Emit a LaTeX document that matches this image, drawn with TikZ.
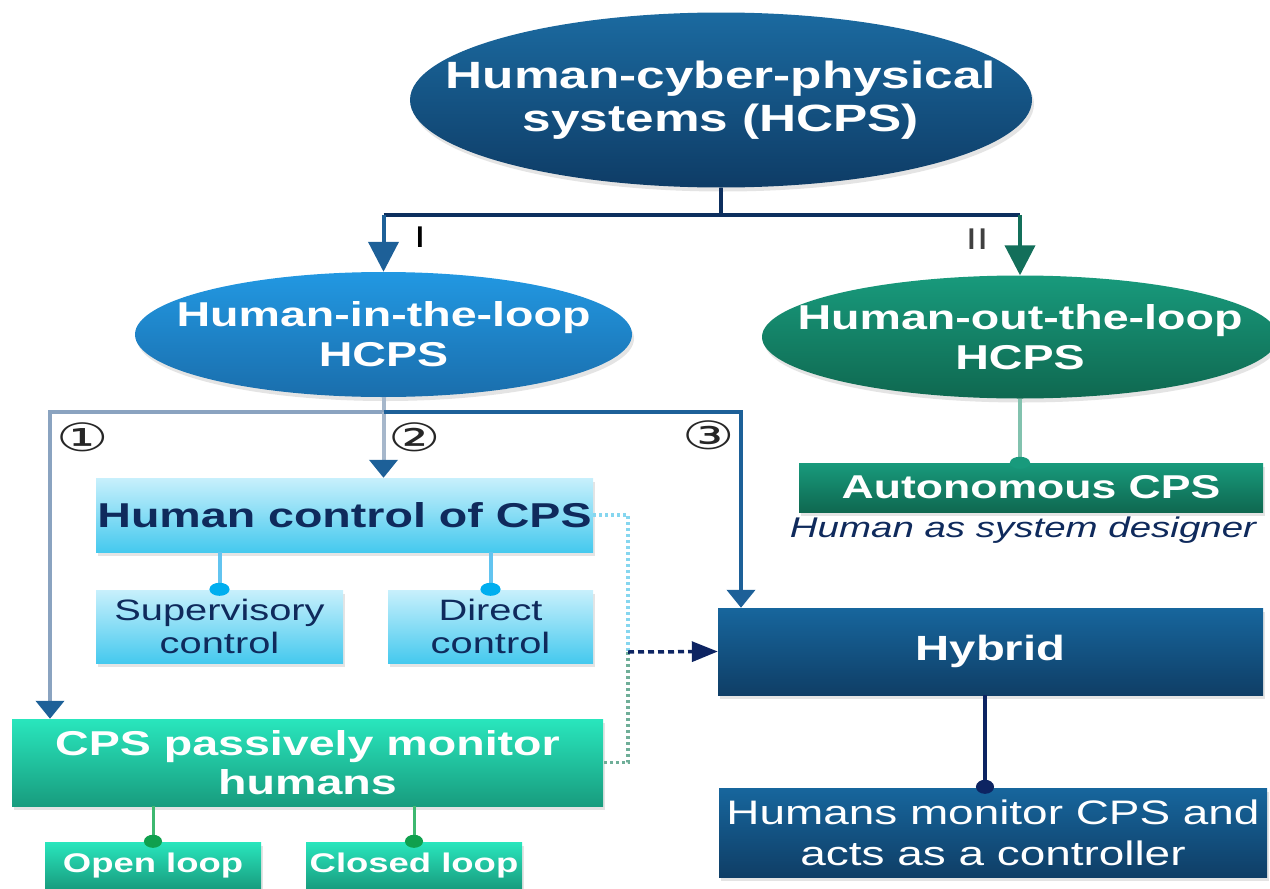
\documentclass[tikz,border=0pt]{standalone}
\usepackage{fontspec}
\setmainfont{Liberation Sans}[FakeStretch=1.35]
\newfontfamily\circfont{DejaVu Sans}[FakeStretch=1.5]
\usetikzlibrary{arrows.meta,shapes.geometric,shadows}

% palette
\definecolor{hcTop}{HTML}{1B6AA0}
\definecolor{hcBot}{HTML}{0E3C66}
\definecolor{inTop}{HTML}{2298E2}
\definecolor{inBot}{HTML}{1A6EAC}
\definecolor{outTop}{HTML}{189A7C}
\definecolor{outBot}{HTML}{0F6850}
\definecolor{skyTop}{HTML}{C8F0FC}
\definecolor{skyBot}{HTML}{45C9EE}
\definecolor{mintTop}{HTML}{29E6BD}
\definecolor{mintBot}{HTML}{189C7E}
\definecolor{deepTop}{HTML}{17669D}
\definecolor{deepBot}{HTML}{0F3E66}
\definecolor{navyline}{HTML}{0D2F5E}
\definecolor{blueline}{HTML}{1D6098}
\definecolor{greenline}{HTML}{136F5A}
\definecolor{paleline}{HTML}{A6B7CB}
\definecolor{midline}{HTML}{8AA3C0}
\definecolor{cyanline}{HTML}{62C4F0}
\definecolor{cyandot}{HTML}{00AEEF}
\definecolor{leafline}{HTML}{3DB870}
\definecolor{leafdot}{HTML}{10A04E}
\definecolor{sageline}{HTML}{82C2AE}
\definecolor{inkblue}{HTML}{0F2A5C}
\definecolor{dotsky}{HTML}{86D6EF}
\definecolor{dotsage}{HTML}{6FAE98}
\definecolor{dotnavy}{HTML}{0D2462}

\begin{document}
\begin{tikzpicture}[x=1pt,y=-1pt,
  softshadow/.style={drop shadow={shadow xshift=2pt,shadow yshift=-4pt,opacity=0.15,fill=black!70}},
  oval/.style={ellipse,inner sep=0pt,draw=none,softshadow},
  panel/.style={rectangle,inner sep=0pt,draw=none,align=center,softshadow},
  txt/.style={align=center,inner sep=0pt},
  bigtip/.style={-{Triangle[width=30pt,length=30pt]}},
  smalltip/.style={-{Triangle[width=28pt,length=18pt,color=blueline]}},
  roundtip/.style={shorten >=-6pt},
  lab/.style={inner sep=0pt,font=\fontsize{30}{30}\selectfont},
  circnum/.style={inner sep=0pt,text=black!85,font=\circfont\fontsize{39}{39}\selectfont}
]
\useasboundingbox (0,0) rectangle (1270,889);
\clip (0,0) rectangle (1270,889);

% ---- ovals ----
\node[oval,top color=hcTop,bottom color=hcBot,minimum width=622pt,minimum height=175pt] (hcps) at (721,100) {};
\node[txt,text=white,font=\bfseries\fontsize{38}{43}\selectfont] (hcpsT) at (hcps) {Human-cyber-physical\\systems (HCPS)};

\node[oval,top color=inTop,bottom color=inBot,minimum width=497pt,minimum height=125pt] (hitl) at (383.5,334.5) {};
\node[txt,text=white,font=\bfseries\fontsize{34.5}{40}\selectfont] (hitlT) at (hitl) {Human-in-the-loop\\HCPS};

\node[oval,top color=outTop,bottom color=outBot,minimum width=516pt,minimum height=123pt] (hotl) at (1020,337) {};
\node[txt,text=white,font=\bfseries\fontsize{34.5}{40}\selectfont] (hotlT) at (hotl) {Human-out-the-loop\\HCPS};

% ---- boxes ----
\node[panel,top color=skyTop,bottom color=skyBot,minimum width=497pt,minimum height=74pt,
      text=inkblue,font=\bfseries\fontsize{34.5}{40}\selectfont] (hc) at (344.5,515) {Human control of CPS};
\node[panel,top color=skyTop,bottom color=skyBot,minimum width=247pt,minimum height=73pt,
      text=inkblue,font=\fontsize{29.5}{33}\selectfont] (sup) at (219.5,626.5) {Supervisory\\control};
\node[panel,top color=skyTop,bottom color=skyBot,minimum width=205pt,minimum height=73pt,
      text=inkblue,font=\fontsize{29.5}{33}\selectfont] (dir) at (490.5,626.5) {Direct\\control};

\node[panel,top color=mintTop,bottom color=mintBot,minimum width=591pt,minimum height=87pt,
      text=white,font=\bfseries\fontsize{34.5}{39}\selectfont] (cpm) at (307.5,762.5) {CPS passively monitor\\humans};
\node[panel,top color=mintTop,bottom color=mintBot,minimum width=216pt,minimum height=47pt,
      text=white,font=\bfseries\fontsize{27}{30}\selectfont] (open) at (153,865.5) {Open loop};
\node[panel,top color=mintTop,bottom color=mintBot,minimum width=216pt,minimum height=47pt,
      text=white,font=\bfseries\fontsize{27}{30}\selectfont] (closed) at (414,865.5) {Closed loop};

\node[panel,top color=outTop,bottom color=outBot,minimum width=464pt,minimum height=49pt,
      text=white,font=\bfseries\fontsize{33}{36}\selectfont] (auto) at (1031,487.5) {Autonomous CPS};
\node[anchor=base,inner sep=0pt,text=inkblue,font=\itshape\fontsize{28.5}{30}\selectfont] (designer) at (1023,537) {Human as system designer};

\node[panel,top color=deepTop,bottom color=deepBot,minimum width=545pt,minimum height=87pt,
      text=white,font=\bfseries\fontsize{35}{40}\selectfont] (hyb) at (990.5,651.5) {Hybrid};
\node[panel,top color=deepTop,bottom color=deepBot,minimum width=548pt,minimum height=89pt,
      text=white,font=\fontsize{34}{41}\selectfont] (hm) at (993,832.5) {Humans monitor CPS and\\acts as a controller};

% ---- first split: I / II ----
\coordinate (j0) at (721,215);
\draw[navyline,line width=4pt] (hcps.south) -- (j0);
\draw[navyline,line width=4pt] (hitl.north |- j0) -- (hotl.north |- j0);
\draw[blueline,line width=4pt,bigtip] (hitl.north |- j0) -- (hitl.north);
\draw[greenline,line width=4pt,bigtip] (hotl.north |- j0) -- (hotl.north);
\node[lab,text=black] (labI) at (420,237) {I};
\node[lab,text=black!75] (labII) at (977,239) {II};

% ---- human-in-the-loop branches ----
\coordinate (k1) at (50,412);
\coordinate (k2) at (383.5,412);
\coordinate (k3) at (741,412);
\draw[paleline,line width=4pt] (hitl.south) -- (k2);
\draw[midline,line width=4pt,smalltip] (k2) -- (k1) -- (k1 |- cpm.north);
\draw[paleline,line width=4pt,smalltip] (k2) -- (k2 |- hc.north);
\draw[blueline,line width=4pt,smalltip] (k2) -- (k3) -- (k3 |- hyb.north);
\node[circnum] (n1) at (83,437) {①};
\node[circnum] (n2) at (415,437) {②};
\node[circnum] (n3) at (709,435) {③};

% ---- control sub-types ----
\draw[cyanline,line width=4pt,roundtip,-{Circle[width=20pt,length=13pt,color=cyandot]}] (sup.north |- hc.south) -- (sup.north);
\draw[cyanline,line width=4pt,roundtip,-{Circle[width=20pt,length=13pt,color=cyandot]}] (dir.north |- hc.south) -- (dir.north);
\draw[leafline,line width=3pt,roundtip,-{Circle[width=18pt,length=13pt,color=leafdot]}] (open.north |- cpm.south) -- (open.north);
\draw[leafline,line width=3pt,roundtip,-{Circle[width=18pt,length=13pt,color=leafdot]}] (closed.north |- cpm.south) -- (closed.north);

% ---- dotted links feeding the hybrid mode ----
\coordinate (d1) at (628,515);
\coordinate (d2) at (628,652);
\coordinate (d3) at (628,762.5);
\draw[dotsky,line width=3.5pt,dash pattern=on 3pt off 3pt] (hc.east) -- (d1) -- (d2);
\draw[dotsage,line width=3.5pt,dash pattern=on 3pt off 3pt] (d2) -- (d3) -- (cpm.east);
\draw[dotnavy,line width=3.5pt,dash pattern=on 6pt off 4pt,-{Triangle[width=20pt,length=26pt]}] (d2) -- (hyb.west);

% ---- out-of-loop and hybrid children ----
\coordinate (hx) at (985,0);
\draw[sageline,line width=4pt,roundtip,-{Circle[width=20pt,length=12pt,color=outTop]}] (hotl.south) -- (hotl.south |- auto.north);
\draw[dotnavy,line width=3.5pt,roundtip,-{Circle[width=18pt,length=14pt]}] (hyb.south -| hx) -- (hm.north -| hx);
\end{tikzpicture}
\end{document}
